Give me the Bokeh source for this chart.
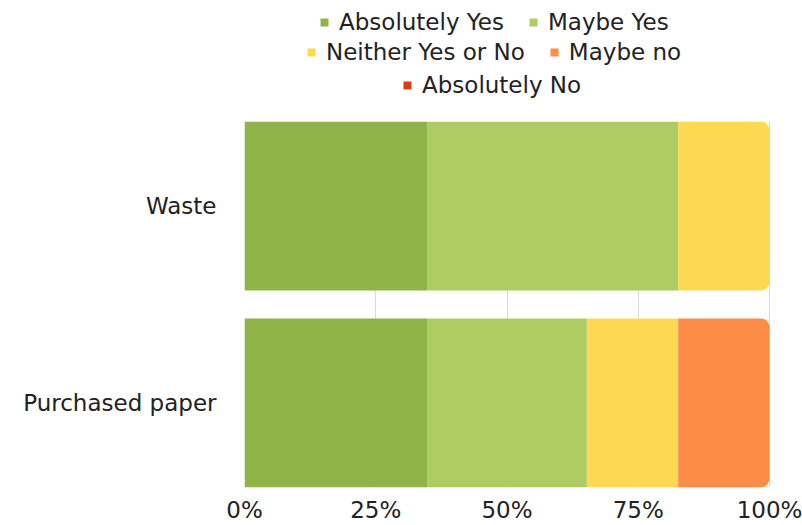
from bokeh.plotting import figure
from bokeh.layouts import column
from bokeh.models import (ColumnDataSource, FactorRange, Legend, LegendItem,
                          FixedTicker, CustomJSTickFormatter, Range1d)
from bokeh.embed import file_html
from bokeh.resources import INLINE

categories = ["Purchased paper", "Waste"]          # bottom to top
series = ["Absolutely Yes", "Maybe Yes", "Neither Yes or No", "Maybe no", "Absolutely No"]
colors = ["#8fb347", "#afcc63", "#fcd853", "#fd8c47", "#d83f14"]
# percentages per series, order matches categories
values = {
    "Absolutely Yes":    [34.78, 34.78],
    "Maybe Yes":         [30.43, 47.83],
    "Neither Yes or No": [17.39, 17.39],
    "Maybe no":          [17.39, 0.0],
    "Absolutely No":     [0.0, 0.0],
}
tick_values = [0, 25, 50, 75, 100]
legend_rows = [["Absolutely Yes", "Maybe Yes"], ["Neither Yes or No", "Maybe no"], ["Absolutely No"]]
FONT = "DejaVu Sans"
FS = "23px"

# ---------------- main chart ----------------
p = figure(width=802, height=404, output_backend="svg", toolbar_location=None,
           y_range=FactorRange(*categories, range_padding=-0.071, range_padding_units="absolute"),
           x_range=(0, 100.19), min_border_left=244, min_border_right=32,
           min_border_bottom=38, min_border_top=0)
p.outline_line_color = None

lefts = [0.0] * len(categories)
last_idx = []
for ci in range(len(categories)):
    li = 0
    for si, s in enumerate(series):
        if values[s][ci] > 0:
            li = si
    last_idx.append(li)

for si, s in enumerate(series):
    sq = dict(y=[], left=[], right=[])
    rd = dict(y=[], left=[], right=[])
    for ci, c in enumerate(categories):
        v = values[s][ci]
        target = rd if (last_idx[ci] == si and v > 0) else sq
        target["y"].append(c)
        target["left"].append(lefts[ci])
        target["right"].append(lefts[ci] + v)
        lefts[ci] += v
    p.hbar(y="y", left="left", right="right", height=0.858,
           source=ColumnDataSource(sq), fill_color=colors[si], line_color=None)
    p.hbar(y="y", left="left", right="right", height=0.858,
           source=ColumnDataSource(rd), fill_color=colors[si], line_color=None,
           border_radius=(0, 9, 9, 0))

p.xgrid.ticker = FixedTicker(ticks=tick_values)
p.xgrid.grid_line_color = "#d9d9d9"
p.ygrid.grid_line_color = None
p.xaxis.ticker = FixedTicker(ticks=tick_values)
p.xaxis.formatter = CustomJSTickFormatter(code="return tick + '%';")
for ax in (p.xaxis, p.yaxis):
    ax.axis_line_color = None
    ax.major_tick_line_color = None
    ax.minor_tick_line_color = None
    ax.major_label_text_font = FONT
    ax.major_label_text_font_size = FS
    ax.major_label_text_color = "#222222"
p.yaxis.major_label_standoff = 22
p.xaxis.major_label_standoff = 3

# ---------------- legend strip ----------------
lp = figure(width=802, height=121, output_backend="svg", toolbar_location=None,
            x_range=Range1d(0, 1), y_range=Range1d(0, 1),
            min_border_left=0, min_border_right=0, min_border_top=0, min_border_bottom=0)
lp.axis.visible = False
lp.grid.visible = False
lp.outline_line_color = None

# zero-width keys (far outside the visible range) that only carry the legend colours
keys = {}
for si, s in enumerate(series):
    keys[s] = lp.hbar(y=[-5], left=[5], right=[5], height=0.1,
                      fill_color=colors[si], line_color=None)

# legend frame is aligned with the chart frame (starts at x=244)
row_loc = [(75, 86), (62, 56), (158, 23)]
for row, loc in zip(legend_rows, row_loc):
    lg = Legend(items=[LegendItem(label=s, renderers=[keys[s]]) for s in row],
                orientation="horizontal", location=loc,
                label_text_font=FONT, label_text_font_size=FS, label_text_color="#222222",
                glyph_width=10, glyph_height=10, label_height=22, label_standoff=10,
                spacing=24, padding=0, margin=0, border_line_color=None,
                background_fill_alpha=0)
    lp.add_layout(lg, "center")

layout = column(lp, p, spacing=0)
open("out.html", "w").write(file_html(layout, INLINE))
